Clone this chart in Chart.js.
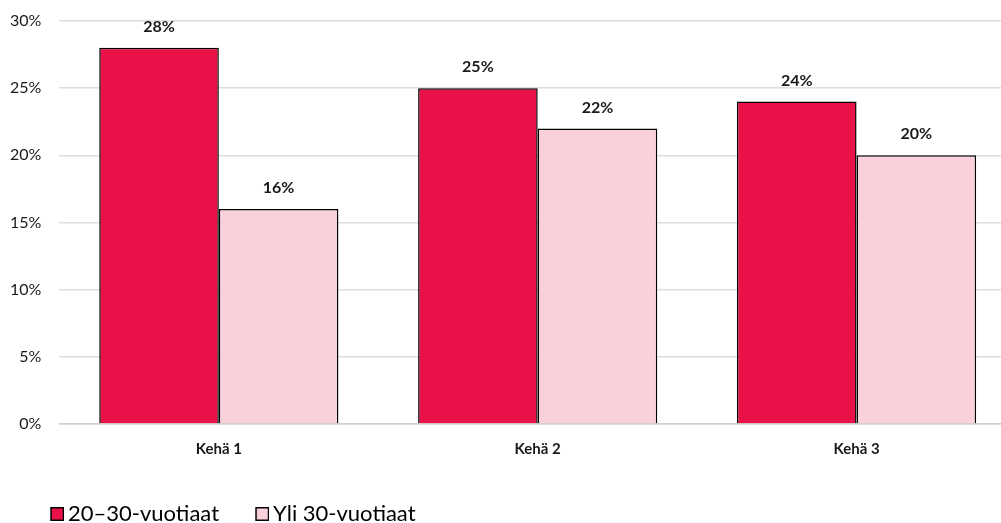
<!DOCTYPE html>
<html>
<head>
<meta charset="utf-8">
<script src="https://cdn.jsdelivr.net/npm/chart.js@4.4.1/dist/chart.umd.min.js"></script>
<style>
html,body{margin:0;padding:0;background:#fff;overflow:hidden;}
#wrap{width:1016px;height:523px;position:relative;}
</style>
</head>
<body>
<div id="wrap"><canvas id="c"></canvas></div>
<script>
const categories = ["Kehä 1", "Kehä 2", "Kehä 3"];
const seriesNames = ["20–30-vuotiaat", "Yli 30-vuotiaat"];
const young = [28, 25, 24];
const older = [16, 22, 20];
const yTicks = [0, 5, 10, 15, 20, 25, 30];
const seriesColors = ['#EA1149', '#FAD1DB'];

const FONT = "Lato, 'Open Sans', sans-serif";

function legendSwatch(color) {
  const c = document.createElement('canvas');
  c.width = 28; c.height = 14;
  const g = c.getContext('2d');
  g.fillStyle = color;
  g.fillRect(15, 0.75, 12.5, 12.5);
  g.strokeStyle = '#000';
  g.lineWidth = 1.5;
  g.strokeRect(15, 0.75, 12.5, 12.5);
  return c;
}
const swatches = seriesColors.map(legendSwatch);

const labelPlugin = {
  id: 'barLabels',
  afterLayout(chart) {
    if (chart.legend) { chart.legend.left += 22; chart.legend.top += 8; chart.legend.bottom += 8; }
  },
  afterDatasetsDraw(chart) {
    const ctx = chart.ctx;
    ctx.save();
    ctx.font = "bold 16px " + FONT;
    ctx.fillStyle = '#1a1a1a';
    ctx.textAlign = 'center';
    ctx.textBaseline = 'middle';
    chart.data.datasets.forEach((ds, i) => {
      const meta = chart.getDatasetMeta(i);
      meta.data.forEach((bar, j) => {
        ctx.fillText(ds.data[j] + '%', bar.x, bar.y - 21);
      });
    });
    ctx.restore();
  }
};

new Chart(document.getElementById('c'), {
  type: 'bar',
  data: {
    labels: categories,
    datasets: [
      { label: seriesNames[0], data: young, backgroundColor: seriesColors[0], borderColor: '#000', borderWidth: 1.5 },
      { label: seriesNames[1], data: older, backgroundColor: seriesColors[1], borderColor: '#000', borderWidth: 1.5 }
    ]
  },
  options: {
    responsive: true,
    maintainAspectRatio: false,
    animation: false,
    devicePixelRatio: 1,
    layout: { padding: { left: -8, right: 0, top: 21, bottom: -4 } },
    datasets: { bar: { categoryPercentage: 0.75, barPercentage: 1.0 } },
    scales: {
      x: {
        grid: { display: false },
        border: { display: true, color: '#cfcfcf', width: 1.5 },
        ticks: { color: '#1a1a1a', font: { family: FONT, size: 15, weight: 'bold' }, padding: 8 }
      },
      y: {
        min: 0, max: 30,
        afterBuildTicks: (axis) => { axis.ticks = yTicks.map(v => ({ value: v })); },
        afterFit: (axis) => { axis.paddingTop = 0; },
        grid: { color: '#dedede', lineWidth: 1.5, drawTicks: false },
        border: { display: false },
        ticks: { color: '#1a1a1a', font: { family: FONT, size: 16 }, padding: 18, callback: v => v + '%' }
      }
    },
    plugins: {
      legend: {
        position: 'bottom',
        align: 'start',
        labels: {
          color: '#1a1a1a',
          font: { family: FONT, size: 22 },
          usePointStyle: true,
          boxWidth: 14, boxHeight: 14,
          padding: 29,
          generateLabels: (chart) => chart.data.datasets.map((ds, i) => ({
            text: ds.label, fillStyle: ds.backgroundColor, strokeStyle: '#000', lineWidth: 1.5,
            pointStyle: swatches[i], datasetIndex: i, hidden: false
          }))
        }
      },
      tooltip: { enabled: false }
    }
  },
  plugins: [labelPlugin]
});
</script>
</body>
</html>
